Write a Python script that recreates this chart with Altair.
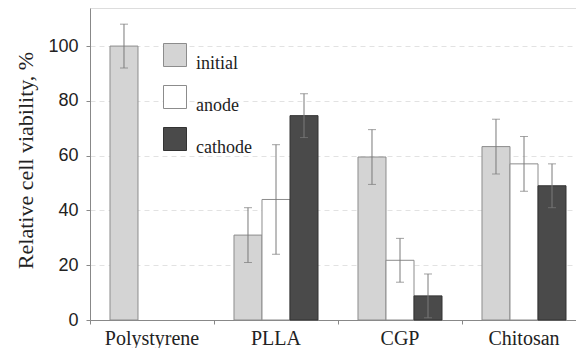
import altair as alt
import pandas as pd

categories = ["Polystyrene", "PLLA", "CGP", "Chitosan"]
series = ["initial", "anode", "cathode"]

# rows: (category, series, mean, error)
cat_col = ["Polystyrene", "PLLA", "PLLA", "PLLA", "CGP", "CGP", "CGP", "Chitosan", "Chitosan", "Chitosan"]
ser_col = ["initial", "initial", "anode", "cathode", "initial", "anode", "cathode", "initial", "anode", "cathode"]
means = [100, 31, 44, 74.6, 59.5, 21.8, 8.8, 63.3, 57, 49]
errors = [8, 10, 20, 8, 10, 8, 8, 10, 10, 8]

df = pd.DataFrame({"cat": cat_col, "ser": ser_col, "mean": means, "err": errors})
df["lo"] = df["mean"] - df["err"]
df["hi"] = df["mean"] + df["err"]

fills = ["#d4d4d4", "#ffffff", "#4a4a4a"]
strokes = ["#8c8c8c", "#8c8c8c", "#333333"]

x_scale = alt.Scale(domain=categories, paddingInner=0, paddingOuter=0, range=[0, 496])

x_enc = alt.X("cat:N", sort=categories, title=None, scale=x_scale,
              axis=alt.Axis(bandPosition=0, labelOffset=0, labelAngle=0, labelFont="Liberation Serif",
                            labelFontSize=20, labelColor="#222222", labelPadding=4, tickSize=4,
                            tickColor="#888888", domainColor="#888888", grid=False, labelBaseline="top"))
xo_enc = alt.XOffset("ser:N", scale=alt.Scale(domain=series, paddingInner=0, paddingOuter=0.714))

y_scale = alt.Scale(domain=[0, 113.9], nice=False, zero=True)

bars = alt.Chart(df).mark_bar(strokeWidth=1).encode(
    x=x_enc,
    xOffset=xo_enc,
    y=alt.Y("mean:Q", scale=y_scale, title="Relative cell viability, %",
            axis=alt.Axis(values=[0, 20, 40, 60, 80, 100], labelFont="Liberation Sans", labelFontSize=18,
                          labelColor="#222222", tickSize=4, tickColor="#888888", labelPadding=8,
                          domainColor="#888888", grid=True, gridColor="#e2e2e2", gridDash=[5, 4],
                          titleFont="Liberation Serif", titleFontSize=22, titleFontWeight="normal",
                          titleColor="#222222", titleAngle=270, titleX=-58, titleY=152,
                          titleAlign="center", titleBaseline="alphabetic")),
    fill=alt.Fill("ser:N", scale=alt.Scale(domain=series, range=fills),
                  legend=alt.Legend(title=None, orient="none", legendX=73, legendY=35, padding=0,
                                    symbolType="square", symbolSize=529, symbolStrokeColor="#8c8c8c",
                                    symbolStrokeWidth=1, labelFont="Liberation Serif", labelFontSize=18,
                                    labelColor="#222222", labelBaseline="top", labelOffset=9,
                                    rowPadding=10)),
    stroke=alt.Stroke("ser:N", scale=alt.Scale(domain=series, range=strokes), legend=None),
)

rules = alt.Chart(df).mark_rule(color="#7a7a7a", strokeWidth=1).encode(
    x=alt.X("cat:N", sort=categories, scale=x_scale),
    xOffset=xo_enc,
    y=alt.Y("lo:Q", scale=y_scale),
    y2="hi:Q",
)

caps_hi = alt.Chart(df).mark_tick(color="#7a7a7a", thickness=1, size=8, orient="horizontal").encode(
    x=alt.X("cat:N", sort=categories, scale=x_scale),
    xOffset=xo_enc,
    y=alt.Y("hi:Q", scale=y_scale),
)
caps_lo = alt.Chart(df).mark_tick(color="#7a7a7a", thickness=1, size=8, orient="horizontal").encode(
    x=alt.X("cat:N", sort=categories, scale=x_scale),
    xOffset=xo_enc,
    y=alt.Y("lo:Q", scale=y_scale),
)

chart = alt.layer(bars, rules, caps_hi, caps_lo).properties(
    width=486, height=312,
    autosize=alt.AutoSizeParams(type="none"),
    padding={"left": 82, "top": 0, "right": 0, "bottom": 28},
).configure_view(stroke=None).configure(background="white")

chart.save("out.html", embed_options={"renderer": "svg", "actions": False})
